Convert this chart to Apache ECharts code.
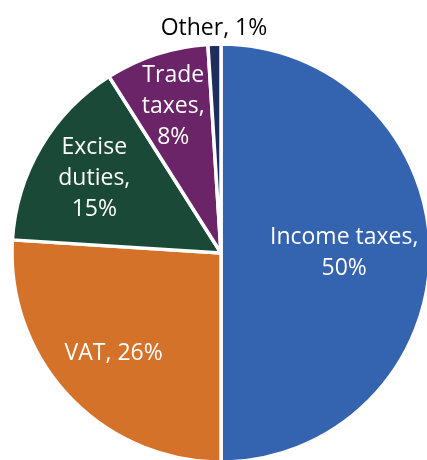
<!DOCTYPE html>
<html>
<head>
<meta charset="utf-8">
<style>
  html, body { margin: 0; padding: 0; background: #ffffff; }
  #chart { width: 427px; height: 460px; }
</style>
<script src="https://cdn.jsdelivr.net/npm/echarts@6/dist/echarts.min.js"></script>
</head>
<body>
<div id="chart"></div>
<script>
// Revenue composition by tax type (share of total, %)
const categories = ['Income taxes', 'VAT', 'Excise duties', 'Trade taxes', 'Other'];
const shares = [50, 26, 15, 8, 1];
// How each label is broken into lines
const labelHeads = ['Income taxes,', 'VAT,', 'Excise\nduties,', 'Trade\ntaxes,', 'Other,'];
const labelJoins = ['\n', ' ', '\n', '\n', ' '];
const colors = ['#3463AF', '#D4722A', '#1A4A37', '#6A2467', '#1F2D5C'];

const FONT = '"Open Sans", sans-serif';
const CX = 221, CY = 253, R = 209;

const chart = echarts.init(document.getElementById('chart'), null, { renderer: 'canvas' });

const labelText = (i) => labelHeads[i] + labelJoins[i] + shares[i] + '%';

const baseData = categories.map((name, i) => ({
  name, value: shares[i], itemStyle: { color: colors[i] }
}));

// Transparent copy of the pie whose inside-label ring sits at the wanted distance.
function labelRing(radius, shownIdx, color) {
  return {
    type: 'pie',
    silent: true,
    center: [CX, CY],
    radius: [0, radius],
    startAngle: 90,
    clockwise: true,
    avoidLabelOverlap: false,
    z: 5,
    itemStyle: { color: 'rgba(0,0,0,0)', borderWidth: 0 },
    emphasis: { disabled: true },
    labelLine: { show: false },
    label: {
      show: true,
      position: 'inside',
      fontFamily: FONT,
      fontSize: 23,
      lineHeight: 31,
      padding: [8, 0, 0, 0],
      color: color,
      formatter: (p) => shownIdx.includes(p.dataIndex) ? labelText(p.dataIndex) : ''
    },
    data: categories.map((name, i) => ({ name, value: shares[i] }))
  };
}

chart.setOption({
  animation: false,
  backgroundColor: '#ffffff',
  series: [
    {
      type: 'pie',
      center: [CX, CY],
      radius: [0, R],
      startAngle: 90,
      clockwise: true,
      itemStyle: { borderColor: '#ffffff', borderWidth: 3.5 },
      label: { show: false },
      labelLine: { show: false },
      emphasis: { disabled: true },
      data: baseData
    },
    labelRing(R * 1.38, [1, 2], '#ffffff'),
    labelRing(R * 1.45, [3], '#ffffff'),
    labelRing(R * 1.15, [0], '#ffffff'),
    labelRing(R * 2.12, [4], '#000000')
  ]
});
</script>
</body>
</html>
